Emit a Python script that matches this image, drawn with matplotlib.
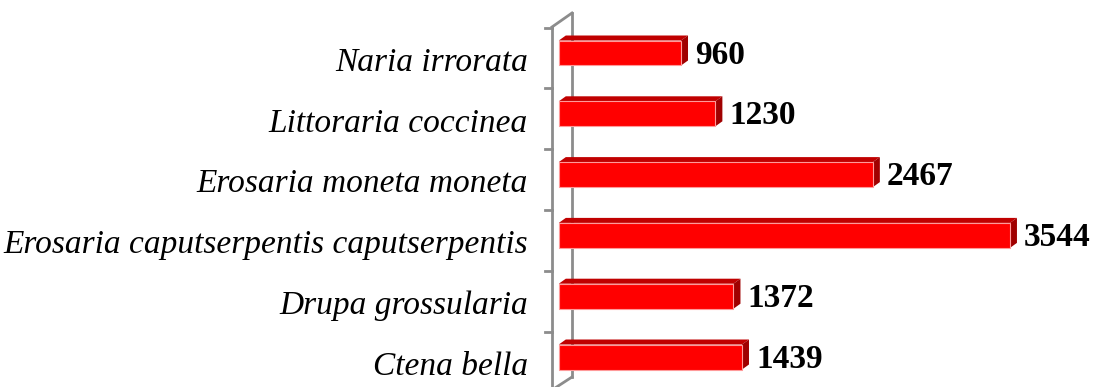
import matplotlib
matplotlib.use("Agg")
import matplotlib.pyplot as plt
from matplotlib.patches import Polygon

species = ["Ctena bella", "Drupa grossularia",
           "Erosaria caputserpentis caputserpentis",
           "Erosaria moneta moneta", "Littoraria coccinea", "Naria irrorata"]
counts = [1439, 1372, 3544, 2467, 1230, 960]

W, H = 1097, 387
# pixel scale of the value axis and category pitch
XS = 0.1273      # px per unit
X0 = 558.8       # px of value 0 (front face)
YS = 60.8        # px per category
Y0 = 30.0        # px from bottom of first bar centre

def px_x(p):
    return (p - X0) / XS

def px_y(p):
    return (p - Y0) / YS

fig = plt.figure(figsize=(W / 100, H / 100), dpi=100)
left_px = 552
ax = fig.add_axes([left_px / W, 0, 1 - left_px / W, 1])
ax.set_xlim(px_x(left_px), px_x(W))
ax.set_ylim(px_y(0), px_y(H))
for s in ax.spines.values():
    s.set_visible(False)
ax.set_xticks([])

# 3D wall
wall = "#8c8c8c"
fx, bx = px_x(552), px_x(572)
ax.plot([fx, fx], [px_y(-20), px_y(387 - 27)], color=wall, lw=2, clip_on=False, zorder=1)
ax.plot([bx, bx], [px_y(10), px_y(387 - 13)], color=wall, lw=2, clip_on=False, zorder=1)
ax.plot([fx, bx], [px_y(387 - 27), px_y(387 - 13)], color=wall, lw=2, clip_on=False, zorder=1)
ax.plot([fx, bx], [px_y(-3), px_y(10)], color=wall, lw=2, clip_on=False, zorder=1)
for b in range(-1, 6):
    yb = b + 0.5 - 5 / YS
    ax.plot([px_x(545), fx], [yb, yb], color=wall, lw=2, clip_on=False, zorder=1)

h = 25 / YS
dx = 7 / XS
dy = 5 / YS
for i, v in enumerate(counts):
    lo, hi = i - h / 2, i + h / 2
    ax.add_patch(Polygon([(0, hi), (v, hi), (v + dx, hi + dy), (dx, hi + dy)],
                         closed=True, facecolor="#c00000", edgecolor="none", zorder=2))
    ax.add_patch(Polygon([(v, lo), (v, hi), (v + dx, hi + dy), (v + dx, lo + dy)],
                         closed=True, facecolor="#a00000", edgecolor="none", zorder=2))
    ax.add_patch(Polygon([(0, lo), (v, lo), (v, hi), (0, hi)],
                         closed=True, facecolor="#ff0000", edgecolor="#ff9a9a", lw=0.8, zorder=3))
    ax.text(v + 14 / XS, i - 2 / YS, str(v), va="center", ha="left",
            fontsize=24, fontweight="bold", family="Liberation Serif", color="black")

ax.set_yticks([i - 6 / YS for i in range(len(species))])
ax.set_yticklabels(species, fontsize=24, style="italic", family="Liberation Serif")
ax.tick_params(axis="y", length=0, pad=(left_px - 528) * 0.72)

fig.savefig("out.png", dpi=100)
